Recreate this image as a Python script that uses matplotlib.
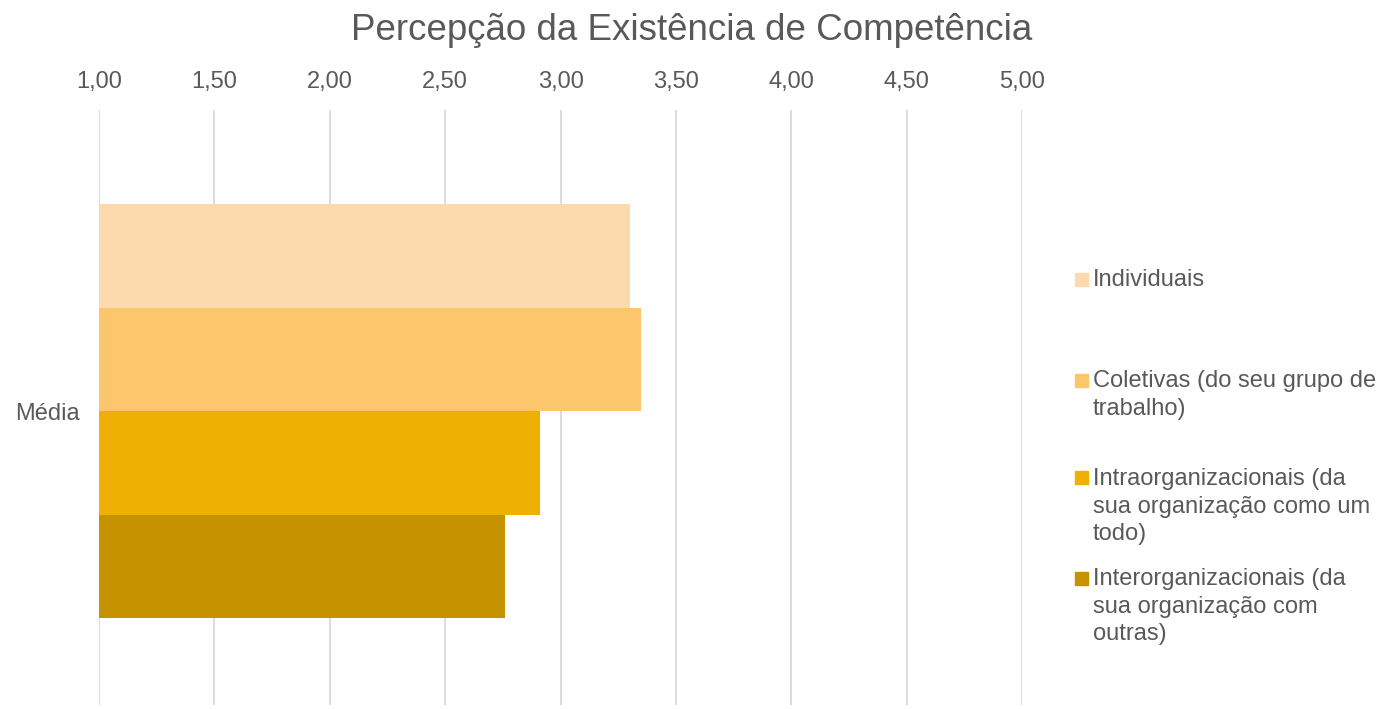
import matplotlib.pyplot as plt
from matplotlib.patches import Rectangle

plt.rcParams['font.family'] = ['Liberation Sans', 'DejaVu Sans']

# Data
category = "Média"
series = [
    "Individuais",
    "Coletivas (do seu grupo de\ntrabalho)",
    "Intraorganizacionais (da\nsua organização como um\ntodo)",
    "Interorganizacionais (da\nsua organização com\noutras)",
]
values = [3.30, 3.35, 2.91, 2.76]
colors = ["#fcdaad", "#fbc66c", "#edb003", "#c59300"]
xticks = [1.0, 1.5, 2.0, 2.5, 3.0, 3.5, 4.0, 4.5, 5.0]

text_color = "#595959"

fig = plt.figure(figsize=(13.84, 7.09), dpi=100)
ax = fig.add_axes([0.0715, 0.006, 0.667, 0.839])

bar_h = 0.174
offsets = [(i - 1.5) * bar_h for i in range(len(values))]
for off, v, c in zip(offsets, values, colors):
    ax.barh(off, v, height=bar_h, color=c, zorder=2)

ax.set_xlim(1, 5)
ax.set_ylim(0.4933, -0.5067)
ax.set_xticks(xticks)
ax.set_xticklabels([f"{t:.2f}".replace(".", ",") for t in xticks])
ax.xaxis.tick_top()
ax.tick_params(axis='x', length=0, pad=12, labelsize=17, labelcolor=text_color)
ax.set_yticks([0])
ax.set_yticklabels([category])
ax.tick_params(axis='y', length=0, pad=14, labelsize=17, labelcolor=text_color)
ax.grid(axis='x', color="#d9d9d9", linewidth=1.3, zorder=0)
for s in ax.spines.values():
    s.set_visible(False)

fig.text(0.5, 0.957, "Percepção da Existência de Competência", ha='center', va='center',
         fontsize=26.5, color=text_color)

# Legend drawn manually
leg_y = [279, 380, 478, 578]
for y, label, c in zip(leg_y, series, colors):
    fy = 1 - y / 709
    fig.patches.append(Rectangle((1075 / 1384, fy - 6.5 / 709), 13 / 1384, 13 / 709,
                                 transform=fig.transFigure, color=c))
    fig.text(1093 / 1384, fy + 10 / 709, label, ha='left', va='top', fontsize=17,
             color=text_color, linespacing=1.33)

fig.savefig("out.png", dpi=100)
